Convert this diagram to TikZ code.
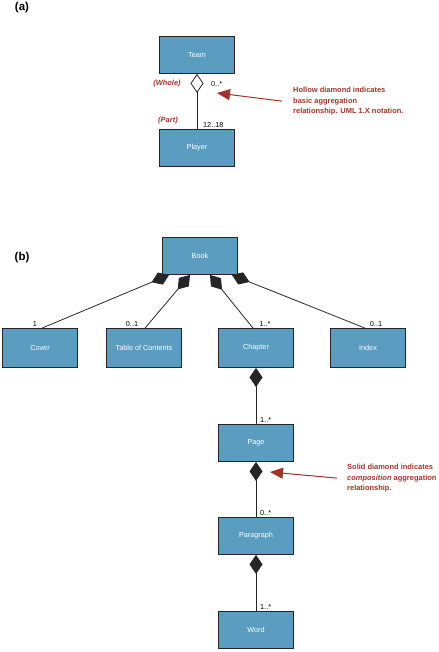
\documentclass[tikz,border=0pt]{standalone}
\usepackage{fontspec}
\setmainfont{Liberation Sans}
\usetikzlibrary{positioning,arrows.meta}
\definecolor{clsblue}{HTML}{5A9DC0}
\definecolor{notered}{HTML}{A33327}
\definecolor{edgegray}{HTML}{262626}

\begin{document}
\begin{tikzpicture}[x=1bp,y=-1bp,font=\fontsize{7.3}{8.5}\selectfont,
  cls/.style={draw=edgegray,line width=0.8bp,fill=clsblue,text=white,
    minimum width=75bp,minimum height=37bp,inner sep=0pt},
  mult/.style={inner sep=1bp},
  role/.style={text=notered,inner sep=0pt,font=\fontsize{7.5}{9}\selectfont\bfseries\itshape},
  note/.style={text=notered,align=left,anchor=north west,inner sep=0pt,
    font=\fontsize{7.5}{10.5}\selectfont\bfseries},
  panel/.style={font=\fontsize{11.5}{13}\selectfont\bfseries},
  agg/.style={draw=edgegray,line width=0.8bp,{Diamond[open,length=19bp,width=13bp]}-},
  comp/.style={draw=edgegray,line width=0.8bp,{Diamond[length=19bp,width=13bp]}-},
  pointer/.style={draw=notered,line width=1bp,-{Triangle[length=13bp,width=11bp]}}]
\useasboundingbox (0,0) rectangle (439,652);

% (a) aggregation
\node[panel] (labA) at (22,8) {(a)};
\node[cls] (team) at (197,55) {Team};
\node[cls] (player) at (197,148) {Player};
\draw[agg] (team) -- (player);
\node[role] (whole) at (167,84) {(Whole)};
\node[role] (part) at (168,121) {(Part)};
\node[mult,anchor=west] (teammult) at (210,84) {0..*};
\node[mult,anchor=west] (playermult) at (202,125) {12..18};
\node[note] (aggnote) at (293,87) {Hollow diamond indicates\\basic aggregation\\relationship. UML 1.X notation.};
\coordinate (aggtip) at (217,93);
\draw[pointer] ([xshift=-11bp]aggnote.west) -- (aggtip);

% (b) composition
\node[panel] (labB) at (22,258) {(b)};
\node[cls] (book) at (200,256) {Book};
\node[cls,minimum height=39bp] (cover) at (40,348) {Cover};
\node[cls,minimum height=39bp] (toc) at (144,348) {Table of Contents};
\node[cls,minimum height=39bp] (chapter) at (256,348) {Chapter};
\node[cls,minimum height=39bp] (index) at (368,348) {Index};
\node[cls] (page) at (256,443) {Page};
\node[cls] (paragraph) at (256,536) {Paragraph};
\node[cls] (word) at (256,630) {Word};

\draw[comp] ([xshift=7bp]book.south west) -- ([xshift=2bp]cover.north);
\draw[comp] ([xshift=-10bp]book.south) -- ([xshift=1bp]toc.north);
\draw[comp] ([xshift=10bp]book.south) -- ([xshift=-3bp]chapter.north);
\draw[comp] ([xshift=-6bp]book.south east) -- ([xshift=-3bp]index.north);
\draw[comp] (chapter) -- (page);
\draw[comp] (page) -- (paragraph);
\draw[comp] (paragraph) -- (word);

\node[mult,anchor=south] (covermult) at ([xshift=-5bp]cover.north) {1};
\node[mult,anchor=south] (tocmult) at ([xshift=-12bp]toc.north) {0..1};
\node[mult,anchor=south] (chaptermult) at ([xshift=9bp]chapter.north) {1..*};
\node[mult,anchor=south] (indexmult) at ([xshift=8bp]index.north) {0..1};
\node[mult,anchor=south west] (pagemult) at ([xshift=3bp]page.north) {1..*};
\node[mult,anchor=south west] (paragraphmult) at ([xshift=3bp]paragraph.north) {0..*};
\node[mult,anchor=south west] (wordmult) at ([xshift=3bp]word.north) {1..*};

\node[note] (compnote) at (347,464) {Solid diamond indicates\\\textit{composition} aggregation\\relationship.};
\coordinate (comptip) at (270,472);
\draw[pointer] ([xshift=-10bp]compnote.west) -- (comptip);
\end{tikzpicture}
\end{document}
